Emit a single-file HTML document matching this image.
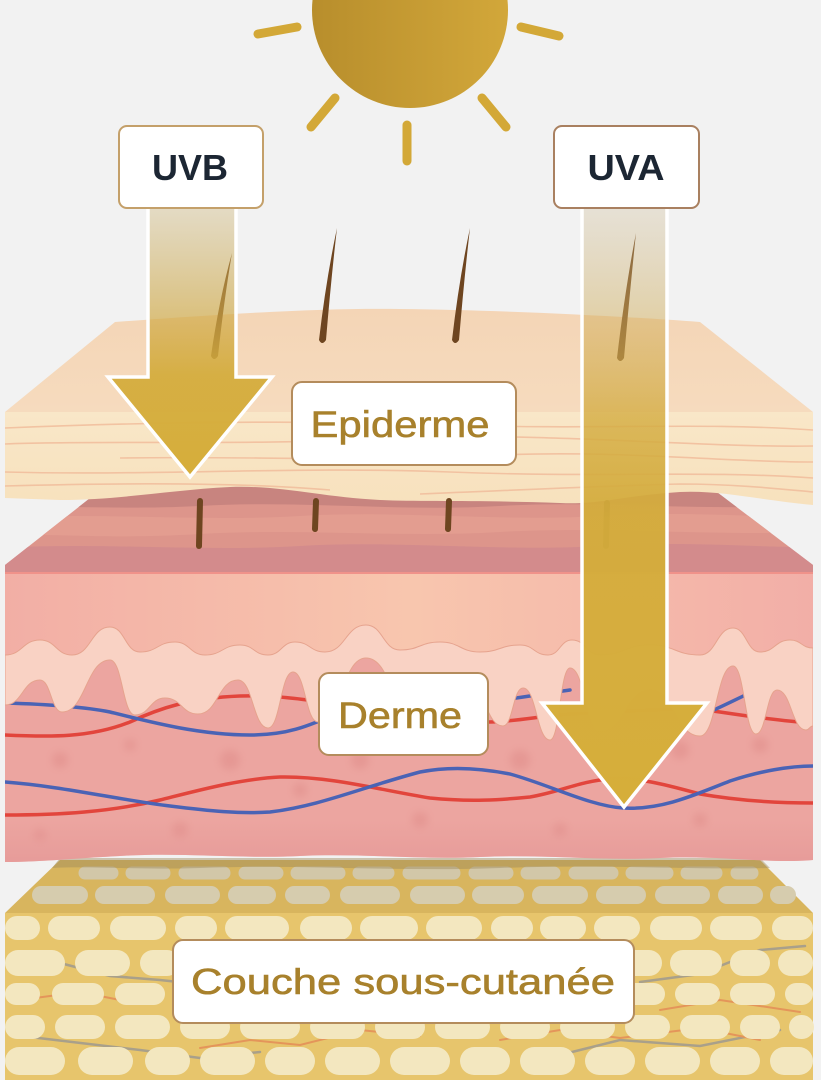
<!DOCTYPE html>
<html>
<head>
<meta charset="utf-8">
<style>
  html, body { margin: 0; padding: 0; background: #f2f2f2; }
  svg { display: block; }
</style>
</head>
<body>
<svg width="821" height="1080" viewBox="0 0 821 1080" xmlns="http://www.w3.org/2000/svg">
  <defs>
    <linearGradient id="sunG" x1="0" y1="0" x2="1" y2="0">
      <stop offset="0" stop-color="#b88e2c"/>
      <stop offset="1" stop-color="#d2a73a"/>
    </linearGradient>
    <linearGradient id="uvbG" gradientUnits="userSpaceOnUse" x1="0" y1="208" x2="0" y2="478">
      <stop offset="0" stop-color="#c6aa62" stop-opacity="0.32"/>
      <stop offset="0.4" stop-color="#d0aa48" stop-opacity="0.68"/>
      <stop offset="0.62" stop-color="#d4ac3c" stop-opacity="0.94"/>
      <stop offset="1" stop-color="#d6ae3a" stop-opacity="1"/>
    </linearGradient>
    <linearGradient id="uvaG" gradientUnits="userSpaceOnUse" x1="0" y1="208" x2="0" y2="808">
      <stop offset="0" stop-color="#c8b48a" stop-opacity="0.28"/>
      <stop offset="0.18" stop-color="#d2b060" stop-opacity="0.5"/>
      <stop offset="0.35" stop-color="#d4ac40" stop-opacity="0.8"/>
      <stop offset="0.52" stop-color="#d4ac3c" stop-opacity="0.96"/>
      <stop offset="1" stop-color="#d6ae3a" stop-opacity="1"/>
    </linearGradient>
    <linearGradient id="epiTop" x1="0" y1="0" x2="0" y2="1">
      <stop offset="0" stop-color="#f4d5b6"/>
      <stop offset="1" stop-color="#f6dbbe"/>
    </linearGradient>
    <linearGradient id="epiFront" x1="0" y1="0" x2="0" y2="1">
      <stop offset="0" stop-color="#f9e7c8"/>
      <stop offset="1" stop-color="#f7e1bd"/>
    </linearGradient>
    <linearGradient id="derUp" x1="0" y1="0" x2="1" y2="0">
      <stop offset="0" stop-color="#f2aea5"/>
      <stop offset="0.5" stop-color="#f8c6ae"/>
      <stop offset="1" stop-color="#f2aea7"/>
    </linearGradient>
    <linearGradient id="derBot" x1="0" y1="0" x2="0" y2="1">
      <stop offset="0" stop-color="#e39595" stop-opacity="0"/>
      <stop offset="1" stop-color="#e39595" stop-opacity="0.7"/>
    </linearGradient>
    <filter id="blur4" x="-50%" y="-50%" width="200%" height="200%">
      <feGaussianBlur stdDeviation="4"/>
    </filter>
    <clipPath id="dtop">
      <polygon points="113,480 701,480 813,565 813,573 5,573 5,565"/>
    </clipPath>
    <clipPath id="dfront">
      <path d="M5,573 L813,573 L813,860 C770,864 720,855 660,858 C600,861 540,854 480,857 C420,860 360,853 300,856 C240,859 180,852 120,856 C80,858 40,862 5,862 Z"/>
    </clipPath>
  </defs>

  <rect x="0" y="0" width="821" height="1080" fill="#f2f2f2"/>

  <!-- Sun -->
  <g stroke="#d3a837" stroke-width="9" stroke-linecap="round">
    <line x1="258" y1="34" x2="297" y2="27"/>
    <line x1="521" y1="27" x2="559" y2="36"/>
    <line x1="335" y1="98" x2="311" y2="127"/>
    <line x1="482" y1="98" x2="506" y2="127"/>
    <line x1="407" y1="125" x2="407" y2="161"/>
  </g>
  <circle cx="410" cy="10" r="98" fill="url(#sunG)"/>

  <!-- Hypodermis top face -->
  <polygon points="60,860 760,860 813,913 5,913" fill="#d8b55e"/>
  <path fill="none" stroke="#d2c7a8" stroke-linecap="round" stroke-width="13"
    d="M85,873h27 M132,873h32 M185,873h39 M245,873h32 M297,873h42 M359,873h29 M409,873h45 M475,873h32 M527,873h27 M575,873h37 M632,873h35 M687,873h29 M737,873h15"/>
  <path fill="none" stroke="#d6ccae" stroke-linecap="round" stroke-width="18"
    d="M41,895h38 M104,895h42 M174,895h37 M237,895h30 M294,895h27 M349,895h42 M419,895h37 M481,895h34 M541,895h38 M605,895h32 M664,895h37 M727,895h27 M779,895h8"/>

  <!-- Hypodermis front face -->
  <rect x="5" y="913" width="808" height="167" fill="#e7c56c"/>
  <g fill="none" stroke-linecap="round">
    <polyline points="60,963 110,976 160,980 215,986" stroke="#a9a08a" stroke-width="2.5"/>
    <polyline points="30,1037 140,1050 200,1058 260,1052" stroke="#a9a08a" stroke-width="2.5"/>
    <polyline points="640,982 700,974 760,950 805,946" stroke="#a9a08a" stroke-width="2.5"/>
    <polyline points="560,1055 620,1040 700,1046 780,1030" stroke="#a9a08a" stroke-width="2.5"/>
    <polyline points="200,1048 250,1040 300,1045 360,1030 420,1036" stroke="#e4955a" stroke-width="2"/>
    <polyline points="500,1040 560,1030 620,1038 700,1028 760,1040" stroke="#e4955a" stroke-width="2"/>
    <polyline points="20,1000 80,992 120,1000" stroke="#e4955a" stroke-width="2"/>
    <polyline points="660,1010 720,1000 800,1012" stroke="#e4955a" stroke-width="2"/>
  </g>
  <g fill="none" stroke="#f3e7bf" stroke-linecap="round">
    <path stroke-width="24" d="M17,928h11 M60,928h28 M122,928h32 M187,928h18 M237,928h40 M312,928h28 M372,928h34 M438,928h32 M503,928h18 M552,928h22 M606,928h22 M662,928h28 M722,928h28 M784,928h17"/>
    <path stroke-width="26" d="M18,963h34 M88,963h29 M153,963h14 M203,963h26 M268,963h34 M333,963h19 M388,963h32 M453,963h24 M513,963h19 M568,963h29 M633,963h16 M683,963h26 M743,963h14 M791,963h9"/>
    <path stroke-width="22" d="M16,994h13 M63,994h30 M126,994h28 M186,994h38 M256,994h23 M311,994h38 M381,994h28 M441,994h33 M506,994h28 M566,994h23 M621,994h33 M686,994h23 M741,994h23 M796,994h6"/>
    <path stroke-width="24" d="M17,1027h16 M67,1027h26 M127,1027h31 M192,1027h26 M252,1027h36 M322,1027h31 M387,1027h26 M447,1027h31 M512,1027h26 M572,1027h31 M637,1027h21 M692,1027h26 M752,1027h16 M801,1027h1"/>
    <path stroke-width="28" d="M19,1061h32 M92,1061h27 M159,1061h17 M214,1061h27 M279,1061h22 M339,1061h27 M404,1061h32 M474,1061h22 M534,1061h27 M599,1061h22 M659,1061h27 M724,1061h22 M784,1061h15"/>
  </g>
  <path d="M60,858 L760,858 L770,868 C700,870 600,864 500,868 C400,872 300,864 200,868 C140,870 90,866 52,868 Z" fill="#9e8a5a" opacity="0.45"/>

  <!-- Dermis top face -->
  <g clip-path="url(#dtop)">
    <rect x="0" y="480" width="821" height="95" fill="#dd958b"/>
    <path d="M0,480 L821,480 L821,505 C700,512 600,500 500,506 C400,512 300,500 200,506 C120,510 60,505 0,508 Z" fill="#c8847f"/>
    <path d="M0,518 C100,512 200,522 300,516 C400,510 500,522 600,516 C700,510 780,520 821,516 L821,532 C700,536 600,526 500,532 C400,538 300,528 200,534 C100,540 50,532 0,536 Z" fill="#e39d90"/>
    <path d="M0,548 C100,542 200,552 300,546 C400,540 500,552 600,546 C700,540 780,550 821,546 L821,575 L0,575 Z" fill="#d38b8c"/>
  </g>

  <!-- Dermis front face -->
  <g clip-path="url(#dfront)">
    <rect x="0" y="570" width="821" height="300" fill="#eca5a0"/>
    <rect x="0" y="573" width="821" height="82" fill="url(#derUp)"/>
    <g fill="#d9807e" opacity="0.35" filter="url(#blur4)">
      <circle cx="60" cy="760" r="8"/>
      <circle cx="130" cy="745" r="6"/>
      <circle cx="230" cy="760" r="10"/>
      <circle cx="300" cy="790" r="7"/>
      <circle cx="360" cy="760" r="9"/>
      <circle cx="420" cy="820" r="8"/>
      <circle cx="520" cy="760" r="10"/>
      <circle cx="560" cy="830" r="7"/>
      <circle cx="680" cy="750" r="9"/>
      <circle cx="760" cy="745" r="8"/>
      <circle cx="700" cy="820" r="7"/>
      <circle cx="180" cy="830" r="8"/>
      <circle cx="40" cy="835" r="6"/>
    </g>
    <rect x="0" y="820" width="821" height="50" fill="url(#derBot)"/>
    <g fill="none" stroke-width="3.5" stroke-linecap="round">
      <path d="M5,735 C50,737 90,738 130,722 C160,708 190,698 240,696 C280,695 300,700 330,702 C380,706 440,722 490,722 C520,721 540,716 570,714 C620,712 680,706 720,712 C760,718 790,722 813,723" stroke="#e2453c"/>
      <path d="M5,703 C40,704 80,706 110,712 C150,722 200,735 250,735 C290,735 310,725 340,712 C400,690 460,704 500,700 C520,698 540,694 570,690" stroke="#4a63b5"/>
      <path d="M700,716 C720,708 740,697 765,686" stroke="#4a63b5"/>
    </g>
    <path d="M5,655 C22.5,655 22.5,640 40,640 C56,640 56,655 72,655 C91,655 91,627 110,627 C125,627 125,652 140,652 C157.5,652 157.5,642 175,642 C190,642 190,655 205,655 C222.5,655 222.5,645 240,645 C254,645 254,655 268,655 C281.5,655 281.5,642 295,642 C310,642 310,652 325,652 C345.5,652 345.5,625 366,625 C383,625 383,650 400,650 C420,650 420,642 440,642 C460,642 460,652 480,652 C500,652 500,645 520,645 C534,645 534,655 548,655 C560,655 560,640 572,640 C586,640 586,655 600,655 C625,655 625,645 650,645 C675,645 675,655 700,655 C716.5,655 716.5,628 733,628 C746.5,628 746.5,652 760,652 C775,652 775,640 790,640 C801.5,640 801.5,648 813,648 L813,726 C809.5,726 809.5,730 806,730 C791.5,730 791.5,690 777,690 C766.5,690 766.5,734 756,734 C744.5,734 744.5,666 733,666 C716.5,666 716.5,736 700,736 C675,736 675,690 650,690 C625,690 625,732 600,732 C585,732 585,668 570,668 C560,668 560,740 550,740 C536.5,740 536.5,688 523,688 C513,688 513,726 503,726 C486.5,726 486.5,690 470,690 C445,690 445,725 420,725 C393,725 393,658 366,658 C342,658 342,722 318,722 C305.5,722 305.5,672 293,672 C280.5,672 280.5,728 268,728 C253,728 253,680 238,680 C218,680 218,714 198,714 C181.5,714 181.5,698 165,698 C150,698 150,715 135,715 C122.5,715 122.5,660 110,660 C86,660 86,712 62,712 C51,712 51,680 40,680 C22.5,680 22.5,705 5,705 Z" fill="#f9d2c4" stroke="#e6a38e" stroke-width="1"/>
    <g fill="none" stroke-width="3.5" stroke-linecap="round">
      <path d="M5,815 C60,815 110,812 160,800 C200,790 240,779 280,777 C330,776 380,790 430,798 C470,802 500,800 530,797 C560,792 580,781 610,779 C640,777 670,786 700,794 C740,801 780,803 813,803" stroke="#e2453c"/>
      <path d="M5,782 C60,786 120,800 170,806 C210,811 240,814 270,812 C320,806 360,788 420,772 C450,766 480,768 510,774 C550,785 590,806 623,808 C660,810 690,797 730,781 C760,771 790,766 813,766" stroke="#4a63b5"/>
    </g>
  </g>
  <line x1="5" y1="573" x2="813" y2="573" stroke="#f0928a" stroke-width="2"/>

  <!-- Epidermis -->
  <path d="M5,412 L115,322 C250,312 330,308 400,309 C500,310 620,316 700,322 L813,412 Z" fill="url(#epiTop)"/>
  <path d="M5,412 L813,412 L813,505 C760,500 720,490 680,492 C620,496 600,505 560,503 C480,500 420,502 380,500 C320,497 280,485 230,487 C170,490 120,500 60,500 L5,498 Z" fill="url(#epiFront)"/>
  <g fill="none" stroke="#f1bd9c" stroke-width="1.6" opacity="0.85">
    <path d="M5,428 C150,422 300,420 450,425 C600,430 700,422 813,430"/>
    <path d="M5,444 C100,440 250,446 400,438 C550,432 700,448 813,446"/>
    <path d="M120,458 C250,456 350,462 500,455 C620,450 720,462 813,462"/>
    <path d="M5,472 C150,476 300,466 450,472 C600,478 700,470 813,478"/>
    <path d="M5,486 C150,482 260,484 330,490 M420,494 C520,490 600,486 680,484 C740,484 790,490 813,492"/>
  </g>

  <!-- Hairs -->
  <g fill="#6e4520">
    <path d="M232,253 Q219,300 211,356 Q214,362 218,356 Q224,300 232,253 Z"/>
    <path d="M337,228 Q326,280 319,340 Q322,346 326,340 Q331,280 337,228 Z"/>
    <path d="M470,228 Q459,280 452,340 Q455,346 459,340 Q464,280 470,228 Z"/>
    <path d="M636,233 Q625,290 617,358 Q620,364 624,358 Q630,290 636,233 Z"/>
  </g>
  <g stroke="#6e4520" stroke-width="6" stroke-linecap="round">
    <line x1="200" y1="501" x2="199" y2="546"/>
    <line x1="316" y1="501" x2="315" y2="529"/>
    <line x1="449" y1="501" x2="448" y2="529"/>
    <line x1="607" y1="503" x2="606" y2="546"/>
  </g>

  <!-- Arrows -->
  <path d="M148,206 L148,377 L108,377 L190,477 L272,377 L236,377 L236,206" fill="url(#uvbG)" stroke="#ffffff" stroke-width="3.5"/>
  <path d="M582,206 L582,703 L542,703 L624,807 L707,703 L667,703 L667,206" fill="url(#uvaG)" stroke="#ffffff" stroke-width="3.5"/>

  <!-- Labels -->
  <g font-family="'Liberation Sans', Arial, sans-serif">
    <rect x="119" y="126" width="144" height="82" rx="8" fill="#ffffff" stroke="#c4a06a" stroke-width="2"/>
    <text x="190" y="180" font-size="36" font-weight="bold" fill="#1c2633" text-anchor="middle" textLength="76" lengthAdjust="spacingAndGlyphs">UVB</text>
    <rect x="554" y="126" width="145" height="82" rx="8" fill="#ffffff" stroke="#a98060" stroke-width="2"/>
    <text x="626" y="180" font-size="36" font-weight="bold" fill="#1c2633" text-anchor="middle" textLength="77" lengthAdjust="spacingAndGlyphs">UVA</text>
    <rect x="292" y="382" width="224" height="83" rx="10" fill="#ffffff" stroke="#b48c5c" stroke-width="2"/>
    <text x="400" y="437" font-size="37" fill="#a8812c" stroke="#a8812c" stroke-width="0.6" text-anchor="middle" textLength="179" lengthAdjust="spacingAndGlyphs">Epiderme</text>
    <rect x="319" y="673" width="169" height="82" rx="10" fill="#ffffff" stroke="#b48c5c" stroke-width="2"/>
    <text x="400" y="728" font-size="37" fill="#a8812c" stroke="#a8812c" stroke-width="0.6" text-anchor="middle" textLength="124" lengthAdjust="spacingAndGlyphs">Derme</text>
    <rect x="173" y="940" width="461" height="83" rx="10" fill="#ffffff" stroke="#b48c5c" stroke-width="2"/>
    <text x="403" y="994" font-size="36" fill="#a8812c" stroke="#a8812c" stroke-width="0.6" text-anchor="middle" textLength="424" lengthAdjust="spacingAndGlyphs">Couche sous-cutanée</text>
  </g>
</svg>
</body>
</html>
